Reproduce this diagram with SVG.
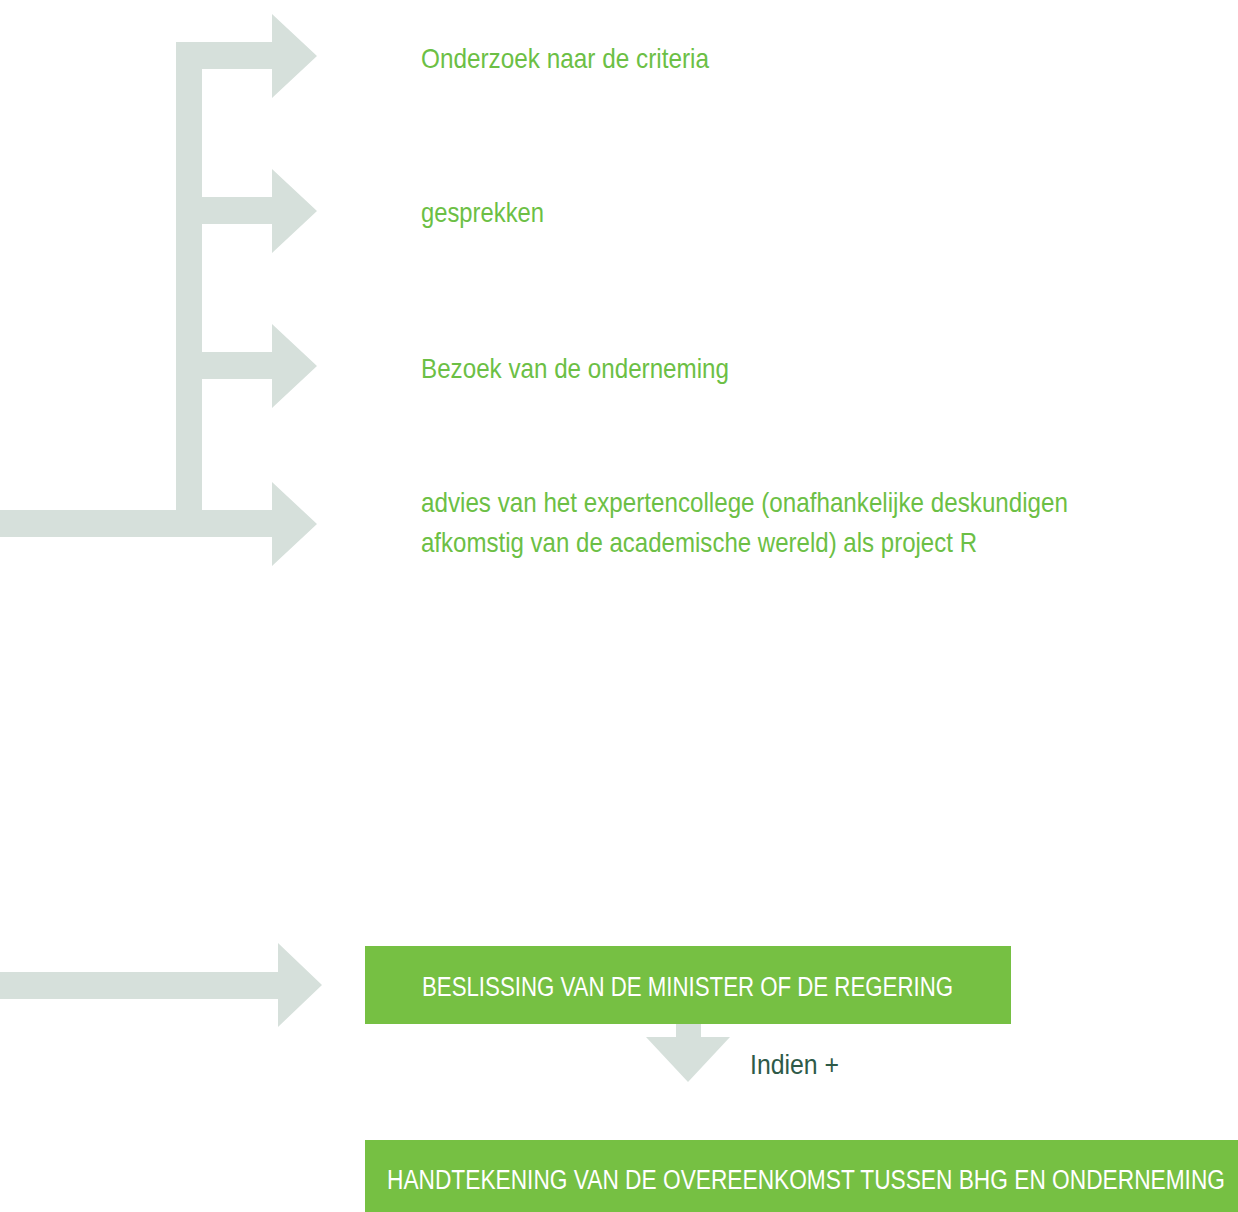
<svg xmlns="http://www.w3.org/2000/svg" width="1238" height="1212" viewBox="0 0 1238 1212">
<style>
.arrow{fill:#d6e0db;}
.box{fill:#76c043;}
.lbl{font-family:"Liberation Sans",Arial,sans-serif;font-size:28px;fill:#6cbf45;}
.boxt{font-family:"Liberation Sans",Arial,sans-serif;font-size:27px;fill:#ffffff;}
.dark{font-family:"Liberation Sans",Arial,sans-serif;font-size:28px;fill:#2e5a48;}
</style>
<rect width="1238" height="1212" fill="#ffffff"/>
<g id="connectors">
<path class="arrow" d="M0,510 H176 V42 H272 V14 L317,56 L272,98 V69 H202 V197 H272 V169 L317,211 L272,253 V224 H202 V352 H272 V324 L317,366 L272,408 V379 H202 V510 H272 V482 L317,524 L272,566 V537 H0 Z"/>
<path class="arrow" d="M0,972 H278 V943 L322,985 L278,1027 V999 H0 Z"/>
<path class="arrow" d="M676,1023 H701 V1037 H730 L688,1082 L646,1037 H676 Z"/>
</g>
<g id="node-criteria">
<text class="lbl" x="421" y="68" textLength="288" lengthAdjust="spacingAndGlyphs">Onderzoek naar de criteria</text>
</g>
<g id="node-gesprekken">
<text class="lbl" x="421" y="222" textLength="123" lengthAdjust="spacingAndGlyphs">gesprekken</text>
</g>
<g id="node-bezoek">
<text class="lbl" x="421" y="378" textLength="308" lengthAdjust="spacingAndGlyphs">Bezoek van de onderneming</text>
</g>
<g id="node-advies">
<text class="lbl" x="421" y="512" textLength="647" lengthAdjust="spacingAndGlyphs">advies van het expertencollege (onafhankelijke deskundigen</text>
<text class="lbl" x="421" y="552" textLength="556" lengthAdjust="spacingAndGlyphs">afkomstig van de academische wereld) als project R</text>
</g>
<g id="node-beslissing">
<rect class="box" x="365" y="946" width="646" height="78"/>
<text class="boxt" x="422" y="996" textLength="531" lengthAdjust="spacingAndGlyphs">BESLISSING VAN DE MINISTER OF DE REGERING</text>
</g>
<g id="label-indien">
<text class="dark" x="750" y="1074" textLength="89" lengthAdjust="spacingAndGlyphs">Indien +</text>
</g>
<g id="node-handtekening">
<rect class="box" x="365" y="1140" width="873" height="72"/>
<text class="boxt" x="387" y="1189" textLength="838" lengthAdjust="spacingAndGlyphs">HANDTEKENING VAN DE OVEREENKOMST TUSSEN BHG EN ONDERNEMING</text>
</g>
</svg>
